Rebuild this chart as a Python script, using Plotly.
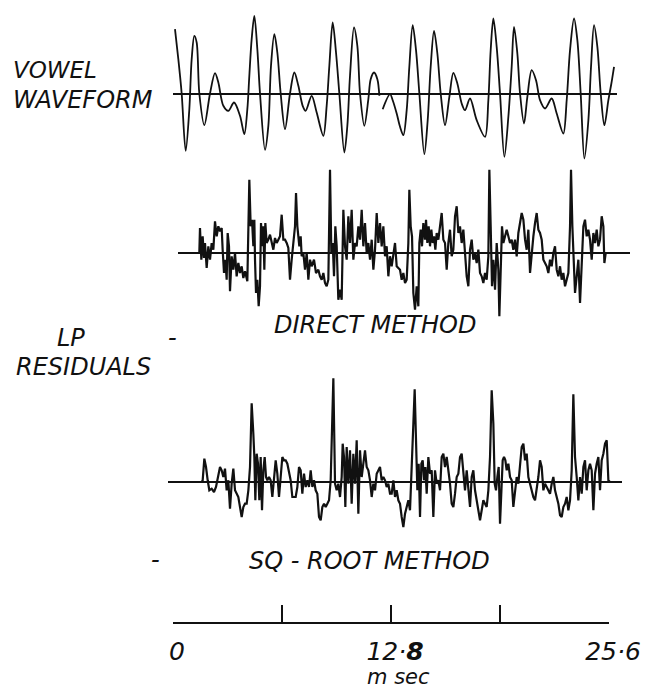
import plotly.graph_objects as go

# ---------------- data ----------------
# Vowel waveform: time (ms) and amplitude (arbitrary units); None = pen break
vowel_t = [0.117, 0.313, 0.509, 0.744, 0.959, 1.096, 1.253, 1.390, 1.546, 1.840,
           2.173, 2.466, 2.662, 2.956, 3.249, 3.582, 3.934, 4.189, 4.365, 4.482,
           4.619, 4.776, 4.952, 5.109, 5.402, 5.598, 5.754, 5.950, 6.126, 6.322,
           6.577, 6.870, 7.125, 7.360, 7.614, 7.790, 8.142, 8.436, 8.828, 9.023,
           9.180, 9.376, 9.571, 9.767, 10.061, 10.237, 10.393, 10.628, 10.824, 10.981,
           11.235, 11.470, 11.607, 11.803, 11.999, 12.116, 12.214, 12.312, 12.742, 12.899,
           13.134, 13.330, 13.525, 13.721, 13.877, 14.073, 14.269, 14.465, 14.758, 14.954,
           15.130, 15.326, 15.522, 15.717, 15.972, 16.226, 16.461, 16.696, 16.950, 17.146,
           17.440, 17.831, 18.320, 18.516, 18.653, 18.810, 19.005, 19.201, 19.456, 19.691,
           19.886, 20.023, 20.219, 20.376, 20.611, 20.806, 21.061, 21.315, 21.550, 21.844,
           22.235, 22.529, 22.920, 23.116, 23.312, 23.547, 23.742, 23.938, 24.154, 24.389,
           24.545, 24.721, 24.917, 25.113, 25.328, 25.563, 25.739, 25.896]
vowel_a = [64.3, 34.3, 0, -57.3, -15.7, 34.3, 57.7, 51, 0, -31.7,
           0, 20.3, 11, -12.3, -17.3, -9, -22.3, -40.7, -15.7, 17.7,
           54.3, 77.7, 44.3, 0, -56.3, -32.3, 27.7, 59.3, 41, 0,
           -35.7, 0, 21, 7.7, -12.3, -17.3, -2.3, -19, -42.3, -12.3,
           27.7, 71, 41, 0, -59, -32.3, 17.7, 66, 47.7, 0,
           -32.3, -5.7, 14.3, 21, 14.3, -2.3, None, -15.7, -0.7, -6.7,
           -20, -33.3, -41.7, -16.7, 26.7, 68.3, 43.3, 0, -60.7, -26.7,
           26.7, 62.7, 40, 0, -31.7, -3.3, 20.7, 10, -10, -16.7,
           -5, -26.7, -43.3, -6.7, 43.3, 75, 46.7, 0, -63.3, -23.3,
           26.7, 66.7, 40, 0, -30, -3.3, 23.3, 13.3, -6.7, -15,
           -5, -20, -40, -6.7, 43.3, 75, 53.3, 0, -65, -26.7,
           26.7, 68.3, 46.7, 0, -31.7, -6.7, 10, 26.7]

# LP residual, direct method
direct_t = [1.546, 1.585, 1.664, 1.742, 1.820, 1.879, 1.977, 2.075, 2.173, 2.270,
            2.368, 2.466, 2.564, 2.662, 2.760, 2.858, 2.916, 2.995, 3.073, 3.151,
            3.210, 3.288, 3.347, 3.445, 3.543, 3.641, 3.738, 3.836, 3.934, 4.032,
            4.130, 4.228, 4.365, 4.424, 4.482, 4.561, 4.639, 4.717, 4.776, 4.815,
            4.874, 4.952, 5.030, 5.109, 5.167, 5.246, 5.304, 5.363, 5.422, 5.500,
            5.598, 5.696, 5.794, 5.892, 5.989, 6.087, 6.185, 6.283, 6.381, 6.479,
            6.577, 6.675, 6.772, 6.870, 6.968, 7.066, 7.164, 7.223, 7.301, 7.418,
            7.497, 7.555, 7.653, 7.751, 7.849, 7.947, 8.045, 8.142, 8.279, 8.397,
            8.534, 8.632, 8.730, 8.828, 8.925, 9.023, 9.121, 9.219, 9.297, 9.376,
            9.454, 9.532, 9.611, 9.708, 9.806, 9.904, 10.002, 10.100, 10.198, 10.296,
            10.393, 10.491, 10.589, 10.687, 10.785, 10.883, 10.981, 11.079, 11.176, 11.274,
            11.372, 11.470, 11.568, 11.666, 11.764, 11.862, 11.960, 12.057, 12.155, 12.253,
            12.351, 12.449, 12.547, 12.645, 12.742, 12.840, 12.938, 13.036, 13.134, 13.329,
            13.427, 13.525, 13.623, 13.721, 13.819, 13.877, 13.956, 14.034, 14.112, 14.210,
            14.308, 14.406, 14.465, 14.543, 14.621, 14.699, 14.797, 14.856, 14.934, 15.012,
            15.091, 15.169, 15.247, 15.326, 15.404, 15.482, 15.580, 15.678, 15.776, 15.874,
            15.972, 16.070, 16.167, 16.265, 16.363, 16.461, 16.559, 16.657, 16.755, 16.852,
            16.950, 17.048, 17.146, 17.244, 17.342, 17.440, 17.538, 17.635, 17.733, 17.831,
            17.929, 18.027, 18.125, 18.223, 18.320, 18.418, 18.516, 18.575, 18.653, 18.731,
            18.810, 18.908, 19.005, 19.103, 19.162, 19.240, 19.318, 19.397, 19.495, 19.593,
            19.691, 19.789, 19.886, 19.984, 20.082, 20.180, 20.278, 20.376, 20.474, 20.572,
            20.670, 20.767, 20.865, 20.963, 21.061, 21.159, 21.257, 21.355, 21.452, 21.550,
            21.648, 21.746, 21.844, 21.942, 22.040, 22.137, 22.235, 22.333, 22.431, 22.529,
            22.627, 22.725, 22.822, 22.920, 23.018, 23.116, 23.214, 23.312, 23.370, 23.449,
            23.507, 23.605, 23.703, 23.801, 23.899, 23.997, 24.095, 24.192, 24.290, 24.388,
            24.486, 24.584, 24.682, 24.780, 24.877, 24.975, 25.073, 25.171, 25.269, 25.328,
            25.406]
direct_a = [0, 25, -6.7, 16.7, -5, 10, -15, 6.7, -6.7, 10,
            3.3, 31.7, 16.7, 26.7, 21.7, 25, 3.3, -20, -6.7, -26.7,
            20, 6.7, -38.3, -3.3, -16.7, 0, -23.3, -10, -20, -13.3,
            -25, -18.3, -28.3, 16.7, 73.3, 26.7, 33.3, 6.7, 33.3, -6.7,
            -40, -26.7, -53.3, -33.3, 30, 6.7, 26.7, -16.7, 30, 10,
            13.3, 18.3, 10, 3.3, 15, 10, 13.3, 16.7, 38.3, 13.3,
            13.3, 10, 5, -26.7, -6.7, 10, 26.7, 60, 26.7, 6.7,
            16.7, -3.3, 0, -16.7, 0, -26.7, -6.7, -13.3, -6.7, -20,
            -16.7, -23.3, -26.7, -20, -30, -33.3, -26.7, 83.3, 0, 10,
            -23.3, 26.7, 6.7, -46.7, -36.7, -46.7, 43.3, 6.7, -6.7, 36.7,
            10, 43.3, -6.7, 10, 6.7, 26.7, 13.3, 43.3, 6.7, 30,
            0, 10, -6.7, 13.3, -16.7, 3.3, 40, 10, 30, 6.7,
            26.7, -3.3, 6.7, -23.3, -3.3, -13.3, -3.3, 10, -13.3, -16.7,
            -26.7, -20, -30, -26.7, 10, 63.3, 26.7, 16.7, -40, -56.7,
            -33.3, -53.3, 10, 23.3, 6.7, 30, 13.3, 33.3, 10, 26.7,
            6.7, 23.3, 10, 16.7, 3.3, 20, 13.3, 26.7, 40, 13.3,
            10, -16.7, 10, 23.3, -3.3, 3.3, 36.7, 46.7, 20, 26.7,
            10, 23.3, -6.7, -23.3, -33.3, 3.3, 13.3, -6.7, 0, -10,
            3.3, -20, -23.3, -30, -20, -26.7, -3.3, 83.3, 26.7, -33.3,
            -6.7, -36.7, 10, -16.7, -63.3, -6.7, 26.7, 10, 16.7, 23.3,
            16.7, 10, 13.3, 3.3, 13.3, -3.3, 20, 30, 40, 33.3,
            13.3, 3.3, 23.3, -20, 0, 16.7, 30, 40, 23.3, 20,
            13.3, -6.7, -10, -13.3, -20, -6.7, -13.3, 0, 6.7, -16.7,
            -23.3, -13.3, -26.7, -20, -33.3, -26.7, -20, 26.7, 83.3, 26.7,
            6.7, -40, -23.3, -6.7, -50, -6.7, 26.7, 33.3, 16.7, 23.3,
            13.3, -6.7, 20, 10, 23.3, 6.7, 13.3, 36.7, 26.7, -10,
            0]

# LP residual, square-root method
sqrt_t = [1.683, 1.742, 1.840, 1.938, 2.036, 2.134, 2.270, 2.407, 2.525, 2.662,
          2.760, 2.858, 2.956, 3.053, 3.151, 3.249, 3.347, 3.445, 3.543, 3.641,
          3.738, 3.836, 3.934, 4.032, 4.130, 4.228, 4.326, 4.424, 4.521, 4.619,
          4.717, 4.776, 4.835, 4.913, 4.991, 5.069, 5.148, 5.226, 5.304, 5.383,
          5.461, 5.539, 5.637, 5.735, 5.833, 5.931, 6.029, 6.126, 6.224, 6.322,
          6.420, 6.518, 6.616, 6.714, 6.812, 6.909, 7.007, 7.105, 7.203, 7.301,
          7.399, 7.497, 7.595, 7.692, 7.790, 7.888, 7.986, 8.084, 8.182, 8.279,
          8.377, 8.475, 8.573, 8.671, 8.769, 8.867, 8.965, 9.063, 9.160, 9.258,
          9.336, 9.415, 9.513, 9.611, 9.708, 9.806, 9.904, 9.963, 10.041, 10.119,
          10.198, 10.296, 10.393, 10.491, 10.589, 10.687, 10.785, 10.883, 10.981, 11.079,
          11.176, 11.274, 11.372, 11.470, 11.568, 11.666, 11.764, 11.862, 11.960, 12.057,
          12.155, 12.253, 12.351, 12.449, 12.547, 12.645, 12.742, 12.840, 12.938, 13.036,
          13.134, 13.231, 13.329, 13.427, 13.525, 13.623, 13.721, 13.819, 13.916, 14.014,
          14.112, 14.190, 14.269, 14.347, 14.425, 14.504, 14.582, 14.660, 14.739, 14.817,
          14.895, 14.993, 15.091, 15.189, 15.286, 15.384, 15.482, 15.580, 15.678, 15.776,
          15.874, 15.972, 16.070, 16.167, 16.265, 16.363, 16.461, 16.559, 16.657, 16.755,
          16.852, 16.950, 17.048, 17.146, 17.244, 17.342, 17.440, 17.538, 17.635, 17.733,
          17.831, 17.929, 18.027, 18.125, 18.223, 18.320, 18.418, 18.516, 18.614, 18.712,
          18.810, 18.888, 18.966, 19.045, 19.123, 19.201, 19.279, 19.358, 19.436, 19.515,
          19.593, 19.691, 19.789, 19.886, 19.984, 20.082, 20.180, 20.278, 20.376, 20.474,
          20.572, 20.670, 20.767, 20.865, 20.963, 21.061, 21.159, 21.257, 21.355, 21.452,
          21.550, 21.648, 21.746, 21.844, 21.942, 22.040, 22.137, 22.235, 22.333, 22.431,
          22.529, 22.627, 22.725, 22.822, 22.920, 23.018, 23.116, 23.214, 23.312, 23.410,
          23.507, 23.605, 23.703, 23.801, 23.899, 23.997, 24.095, 24.192, 24.290, 24.388,
          24.486, 24.584, 24.682, 24.780, 24.877, 24.975, 25.073, 25.171, 25.269, 25.367,
          25.465, 25.563, 25.660]
sqrt_a = [0, 1.7, 23.3, 15, 1.7, -8.3, -6.7, -10, -5, 5,
          15, 11.7, 5, 13.3, -8.3, 1.7, -26.7, -1.7, 13.3, -8.3,
          -11.7, -15, -25, -35, -25, -21.7, -21.7, -8.3, 15, 78.7,
          48.3, 25, -18.3, 28.3, 18.3, -18.3, 25, -28.3, 11.7, 25,
          5, 1.7, 5, 1.7, -15, 8.3, 21.7, 8.3, -15, 5,
          25, 21.7, 21.7, 18.3, 8.3, 1.7, -15, -15, -15, -5,
          15, 11.7, -11.7, 8.3, -5, 1.7, -5, 11.7, -5, 1.7,
          -8.3, -11.7, -35, -38.3, -25, -21.7, -25, -21.7, -18.3, 1.7,
          45, 103.7, -1.7, -8.3, -1.7, -15, 5, 38.3, 25, -25,
          35, -1.7, 31.7, -21.7, 28.3, -1.7, 41.7, -31.7, 31.7, 5,
          18.3, 31.7, 15, 11.7, 1.7, -15, -1.7, -8.3, 8.3, 11.7,
          15, 1.7, 5, 1.7, -5, -1.7, -11.7, -11.7, 1.7, -15,
          -8.3, -18.3, -21.7, -35, -45, -31.7, -25, -18.3, -28.3, 8.3,
          58.3, 92.7, 41.7, -8.3, 18.3, -35, 18.3, 21.7, 1.7, 15,
          -11.7, 25, 8.3, 11.7, -35, 11.7, -1.7, 1.7, -8.3, 25,
          28.3, 15, 25, 11.7, -1.7, -21.7, -25, -11.7, 5, 8.3,
          25, 28.3, 8.3, -8.3, 11.7, -5, -25, 5, 11.7, -8.3,
          -18.3, -25, -38.3, -28.3, -18.3, -21.7, -25, -8.3, 25, 91.7,
          58.3, -1.7, -8.3, 5, 15, -41.7, -8.3, 21.7, 25, 21.7,
          11.7, 18.3, 5, 1.7, -25, -8.3, 5, -1.7, 15, 35,
          38.3, 21.7, 28.3, 5, -1.7, -8.3, -15, -18.3, -8.3, 5,
          21.7, 15, -8.3, -1.7, -5, -8.3, -11.7, -1.7, 5, -8.3,
          -15, -21.7, -33.3, -35, -25, -21.7, -15, -28.3, -18.3, 11.7,
          87.7, 25, 5, -18.3, 5, -11.7, 15, 21.7, -8.3, 11.7,
          18.3, 11.7, -28.3, 8.3, 18.3, 25, -8.3, 21.7, 28.3, 38.3,
          41.7, 1.7, 0]

# time-scale bar
scale_ticks = [0, 6.4, 12.8, 19.2, 25.6]
scale_labels = ["0", "", "12·<b>8</b>", "", "25·6"]

# ---------------- figure ----------------
W, H = 646, 692
PXMS = 436 / 25.6          # pixels per millisecond on the scale bar
X0 = 173                   # pixel of t = 0


def px(v):
    return v / W


def py(v):
    return 1 - v / H


INK = "#111111"
FONT = "DejaVu Sans"

fig = go.Figure()
fig.add_trace(go.Scatter(x=vowel_t, y=vowel_a, mode="lines", xaxis="x", yaxis="y",
                         line=dict(color=INK, width=1.8, shape="spline", smoothing=0.9),
                         connectgaps=False, showlegend=False, hoverinfo="skip"))
fig.add_trace(go.Scatter(x=direct_t, y=direct_a, mode="lines", xaxis="x2", yaxis="y2",
                         line=dict(color=INK, width=2.2), showlegend=False, hoverinfo="skip"))
fig.add_trace(go.Scatter(x=sqrt_t, y=sqrt_a, mode="lines", xaxis="x3", yaxis="y3",
                         line=dict(color=INK, width=2.2), showlegend=False, hoverinfo="skip"))
# invisible trace to host the scale-bar axis
fig.add_trace(go.Scatter(x=[scale_ticks[0], scale_ticks[-1]], y=[0, 0], mode="lines",
                         xaxis="x4", yaxis="y4", line=dict(width=0), opacity=0,
                         showlegend=False, hoverinfo="skip"))

hidden_x = dict(showgrid=False, zeroline=False, showticklabels=False, ticks="",
                showline=False, fixedrange=True, automargin=False)
zero_y = dict(showgrid=False, zeroline=True, zerolinecolor=INK, zerolinewidth=2.4,
              showticklabels=False, ticks="", showline=False, fixedrange=True,
              automargin=False)


def xr(left_px, right_px):
    return dict(domain=[px(left_px), px(right_px)],
                range=[(left_px - X0) / PXMS, (right_px - X0) / PXMS])


fig.update_layout(
    width=W, height=H, autosize=False,
    margin=dict(l=0, r=0, t=0, b=0, pad=0, autoexpand=False),
    paper_bgcolor="white", plot_bgcolor="rgba(0,0,0,0)",
    showlegend=False,
    xaxis=dict(**hidden_x, **xr(173, 617), anchor="y"),
    xaxis2=dict(**hidden_x, **xr(178, 630), anchor="y2"),
    xaxis3=dict(**hidden_x, **xr(168, 622), anchor="y3"),
    xaxis4=dict(domain=[px(173), px(609)], range=[0, 25.6], anchor="y4",
                showgrid=False, zeroline=False, showline=True, linecolor=INK, linewidth=2,
                ticks="inside", ticklen=17, tickwidth=2, tickcolor=INK,
                tickvals=scale_ticks, ticktext=scale_labels,
                tickfont=dict(family=FONT, size=25, color=INK, style="italic"),
                ticklabelstandoff=6, ticklabelshift=4, fixedrange=True,
                automargin=False),
    yaxis=dict(**zero_y, domain=[py(165), py(5)], range=[-(165 - 93.5), 93.5 - 5], anchor="x"),
    yaxis2=dict(**zero_y, domain=[py(340), py(166)], range=[-(340 - 253), 253 - 166], anchor="x2"),
    yaxis3=dict(**zero_y, domain=[py(545), py(372)], range=[-(545 - 482), 482 - 372], anchor="x3"),
    yaxis4=dict(domain=[py(622), py(600)], range=[0, 1], visible=False, anchor="x4",
                fixedrange=True),
)


def label(text, x, y, size=24, xanchor="center"):
    fig.add_annotation(text=text, x=px(x), y=py(y), xref="paper", yref="paper",
                       xanchor=xanchor, yanchor="middle", showarrow=False,
                       font=dict(family=FONT, size=size, color=INK, style="italic"))


label("VOWEL", 11, 70, size=23, xanchor="left")
label("WAVEFORM", 11, 100, xanchor="left")
label("LP", 55, 338, xanchor="left")
label("RESIDUALS", 14, 367, xanchor="left")
label("-", 172, 338)
label("DIRECT METHOD", 375, 325)
label("SQ - ROOT METHOD", 370, 561)
label("-", 155, 560)
label("m sec", 398, 677, size=21)

fig.write_html("out.html", config={"responsive": False, "displayModeBar": False})
